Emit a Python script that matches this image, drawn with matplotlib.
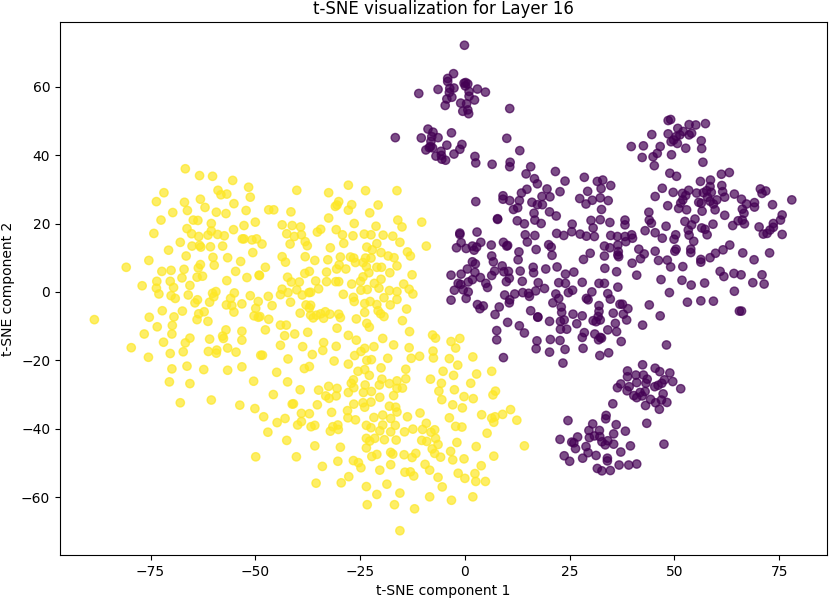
import matplotlib
matplotlib.use('Agg')
import matplotlib.pyplot as plt
import numpy as np

# points, grouped by region
yellow_left = [(-66.7,36.0),(-63.3,34.0),(-60.2,33.8),(-55.4,32.6),(-51.6,30.6),(-71.8,29.0),(-58.9,29.7),(-58.2,28.4),
    (-56.8,28.6),(-73.6,26.4),(-66.9,26.2),(-63.1,27.1),(-51.2,27.7),(-55.1,25.8),(-62.0,24.7),(-66.2,23.8),(-69.7,23.2),
    (-59.3,23.3),(-57.0,22.9),(-52.2,23.8),(-72.5,21.0),(-64.8,21.0),(-63.7,20.9),(-50.0,20.4),(-60.5,20.0),(-52.7,19.4),
    (-66.3,18.5),(-55.2,18.2),(-60.5,17.8),(-74.2,17.1),(-65.2,17.0),(-63.5,16.2),(-61.3,16.6),(-59.0,16.8),(-57.4,16.4),
    (-53.1,15.5),(-52.7,15.5),(-50.8,15.2),(-49.7,15.5),(-67.9,14.5),(-65.1,13.4),(-63.3,13.6),(-63.0,13.1),(-60.7,13.2),
    (-57.8,13.4),(-70.7,12.2),(-50.6,11.5),(-66.5,10.5),(-60.1,10.1),(-56.6,10.0),(-53.5,8.9),(-75.4,9.2),(-63.1,8.0),
    (-59.8,7.8),(-63.6,7.0),(-80.8,7.2),(-72.3,6.0),(-70.1,6.3),(-67.0,6.6),(-54.7,6.0),(-67.5,4.1),(-62.6,4.6),(-63.9,4.3),
    (-52.0,4.2),(-49.1,4.9),(-73.5,3.1),(-70.3,3.1),(-56.8,3.3),(-77.0,1.8),(-73.6,1.1),(-69.5,1.3),(-65.6,1.9),
    (-73.0,-0.6),(-70.1,-1.1),(-69.1,-1.9),(-66.0,-0.9),(-63.8,-2.3),(-64.4,-3.2),(-60.2,-0.4),(-59.4,0.1),(-59.9,-1.4),
    (-60.9,-3.0),(-55.0,-0.3),(-55.9,-1.9),(-51.2,-1.1),(-56.9,-3.8),(-55.6,-4.0),(-53.2,-3.5),(-49.3,-2.8),(-49.9,-4.8),
    (-55.1,-5.9),(-88.4,-8.1),(-72.2,-5.5),(-67.4,-5.6),(-75.3,-7.4),(-69.4,-7.3),(-63.5,-6.4),(-62.2,-5.8),(-63.9,-8.1),
    (-61.3,-8.6),(-50.3,-7.0),(-49.3,-7.4),(-73.4,-10.2),(-69.8,-9.8),(-76.5,-12.3),(-69.9,-12.3),(-57.0,-11.1),(-53.2,-11.5),
    (-57.8,-12.9),(-57.6,-13.6),(-65.6,-13.5),(-60.9,-13.8),(-53.2,-14.1),(-71.9,-14.7),(-66.7,-14.9),(-79.6,-16.3),
    (-56.6,-16.4),(-67.2,-17.5),(-59.2,-17.0),(-61.2,-17.4),(-59.3,-17.9),(-54.6,-17.6),(-70.3,-18.0),(-48.7,-18.5),
    (-75.5,-19.1),(-66.3,-21.7),(-53.2,-21.9),(-69.9,-22.5),(-62.3,-22.7),(-56.6,-22.9),(-70.5,-26.3),(-65.6,-26.8),
    (-50.4,-26.1),(-60.5,-31.6),(-67.9,-32.4),(-53.7,-33.1),(-50.1,-34.1)]

yellow_mid = [(-40.1,29.7),(-27.8,31.2),(-32.5,29.0),(-23.7,29.6),(-16.2,29.6),(-30.1,26.4),(-30.5,25.4),(-30.9,25.0),
    (-27.0,25.5),(-27.8,23.9),(-20.7,25.4),(-22.7,23.1),(-46.8,24.0),(-45.6,24.0),(-41.5,23.4),(-32.5,21.6),(-43.6,19.6),
    (-41.2,19.4),(-39.2,19.0),(-26.4,20.0),(-21.2,19.2),(-16.0,21.0),(-15.0,19.0),(-10.3,20.4),(-42.5,17.0),(-34.4,18.3),
    (-35.2,17.5),(-30.7,18.2),(-40.7,16.2),(-39.0,16.7),(-29.2,16.7),(-26.7,16.4),(-24.0,16.9),(-22.4,16.7),(-19.5,16.6),
    (-17.2,16.3),(-48.4,14.0),(-41.7,14.0),(-38.1,14.7),(-37.6,13.5),(-28.9,14.2),(-21.0,14.1),(-15.5,14.5),(-9.2,13.4),
    (-32.1,12.9),(-23.4,13.1),(-22.1,12.3),(-20.0,11.5),(-13.7,11.7),(-13.0,10.5),(-43.6,10.3),(-42.8,8.7),(-38.1,10.3),
    (-35.8,9.2),(-32.7,9.4),(-29.7,10.2),(-27.3,10.2),(-26.5,9.9),(-26.1,8.6),(-23.7,9.9),(-22.4,9.9),(-18.3,10.5),
    (-16.9,10.0),(-24.3,8.6),(-30.0,7.9),(-30.6,6.7),(-28.4,6.7),(-23.5,7.4),(-21.0,7.2),(-19.9,7.2),(-16.2,7.6),
    (-47.6,7.2),(-49.0,4.8),(-37.1,6.0),(-38.2,5.4),(-33.0,5.8),(-22.9,5.6),(-17.9,5.6),(-12.6,5.0),(-42.3,4.3),(-41.4,2.9),
    (-39.5,2.9),(-35.6,3.2),(-33.0,3.0),(-30.8,3.0),(-30.1,3.0),(-24.3,4.4),(-24.9,3.1),(-20.0,3.7),(-27.0,2.3),(-21.6,2.5),
    (-14.6,2.3),(-43.6,0.8),(-40.1,0.6),(-34.9,0.9),(-24.8,0.5),(-23.3,0.7),(-20.5,1.1),(-13.3,0.8),(-42.2,-0.2),(-44.0,-0.8),
    (-38.8,-0.9),(-37.2,-0.2),(-36.8,-0.1),(-29.0,-0.7),(-18.0,0.4),(-16.2,0.1),(-12.4,-0.6),(-46.9,-1.3),(-19.3,-1.7),
    (-16.2,-2.2),(-26.6,-1.6),(-26.4,-2.8),(-41.6,-3.0),(-46.0,-4.0),(-23.9,-3.4),(-22.6,-2.8),(-21.0,-3.7),(-17.8,-3.8),
    (-37.9,-3.8),(-36.8,-3.9),(-37.1,-4.7),(-13.9,-5.0),(-20.7,-5.5),(-23.9,-6.0),(-20.1,-6.4),(-39.3,-6.2),(-33.3,-5.8),
    (-34.4,-6.4),(-32.2,-6.5),(-35.4,-6.8),(-36.8,-6.8),(-36.2,-7.6),(-30.1,-6.5),(-29.7,-7.5),(-33.7,-7.7),(-48.9,-7.2),
    (-46.8,-8.0),(-25.9,-7.9),(-19.3,-7.2),(-14.9,-8.4)]

yellow_low = [(-47.6,-11.1),(-44.0,-9.7),(-42.6,-9.7),(-43.0,-12.8),(-40.6,-12.3),(-37.5,-11.8),(-30.5,-10.6),(-27.8,-12.7),
    (-25.9,-14.1),(-19.6,-13.6),(-17.0,-15.5),(-23.4,-9.2),(-22.8,-10.3),(-23.9,-16.5),(-24.8,-17.4),(-26.3,-18.6),(-21.7,-16.0),
    (-33.7,-14.8),(-30.7,-15.9),(-44.0,-15.6),(-38.7,-16.0),(-33.9,-17.1),(-36.4,-18.3),(-48.3,-18.5),(-42.2,-19.6),(-31.2,-20.2),
    (-27.8,-21.1),(-23.4,-20.0),(-22.3,-19.8),(-18.4,-19.4),(-38.3,-22.4),(-37.1,-21.8),(-44.9,-23.5),(-25.5,-23.2),(-23.9,-22.7),
    (-22.8,-24.4),(-20.0,-22.2),(-42.3,-26.3),(-26.6,-25.7),(-27.1,-26.7),(-19.8,-25.5),(-20.4,-27.2),(-18.0,-26.8),(-16.2,-26.0),
    (-23.8,-27.2),(-26.5,-28.0),(-39.3,-28.6),(-34.9,-28.7),(-32.5,-27.6),(-30.5,-28.2),(-16.2,-28.2),(-27.8,-29.4),(-24.2,-29.4),
    (-22.3,-29.1),(-45.7,-30.0),(-33.2,-30.4),(-32.4,-31.1),(-30.7,-30.4),(-20.3,-30.8),(-17.0,-30.3),(-41.2,-32.8),(-40.9,-32.7),
    (-35.2,-33.0),(-26.5,-32.8),(-24.3,-32.4),(-22.4,-32.2),(-23.9,-33.7),(-18.0,-33.4),(-16.5,-33.7),(-28.0,-34.7),(-39.0,-35.5),
    (-37.1,-35.6),(-31.8,-35.2),(-19.6,-36.0),(-16.2,-35.1),(-48.0,-36.5),(-42.9,-37.0),(-27.9,-36.8),(-26.1,-37.4),(-21.7,-36.7),
    (-17.7,-37.0),(-44.8,-38.2),(-39.0,-37.9),(-39.9,-38.9),(-23.5,-39.0),(-19.6,-38.9),(-16.6,-39.0),(-36.7,-39.4),(-35.8,-39.0),
    (-31.5,-39.4),(-30.3,-38.9),(-49.9,-48.2),(-47.0,-41.0),(-42.5,-43.4),(-40.2,-48.2),(-35.8,-45.0),
    (-29.7,-45.4),(-23.5,-45.6),(-30.3,-49.5),(-26.6,-49.3),(-25.4,-49.9),(-24.8,-51.4),(-22.2,-48.1),(-21.0,-47.5),(-17.7,-46.9),
    (-17.2,-47.4),(-17.7,-50.5),(-20.3,-52.1),(-34.0,-51.0),(-27.7,-54.0),(-29.5,-55.8),(-23.5,-56.9),(-18.6,-56.2),(-21.0,-59.2),
    (-23.3,-62.2),(-23.5,-42.8),(-22.7,-43.6),(-21.5,-42.8),(-19.2,-43.2),(-16.4,-43.3),(-32.1,-40.7),(-30.2,-40.2),(-22.4,-39.7),
    (-20.3,-40.6),(-17.7,-40.9),(-35.5,-55.9)]

yellow_right = [(-13.2,-11.6),(-7.7,-12.6),(-7.0,-13.5),(-3.3,-14.5),(-1.2,-13.6),(-2.2,-16.4),(-13.3,-16.3),(1.9,-19.0),
    (-7.6,-17.3),(-7.5,-19.3),(-12.8,-19.4),(-10.8,-18.8),(-3.7,-19.5),(-1.7,-21.4),(-14.1,-22.6),(-5.2,-23.2),(-2.7,-24.4),
    (2.8,-24.0),(6.4,-23.2),(-8.2,-25.5),(-14.1,-25.4),(-14.9,-28.1),(-5.6,-26.7),(1.4,-26.7),(-6.2,-29.0),(-2.5,-28.6),
    (7.3,-29.0),(6.7,-30.1),(-0.2,-30.6),(2.0,-31.2),(-5.5,-31.5),(-2.9,-33.0),(-0.6,-33.9),(-10.7,-35.4),(-13.7,-36.5),
    (-3.7,-36.8),(4.0,-35.9),(10.9,-34.4),(9.0,-35.8),(7.2,-36.5),(6.4,-36.9),(6.9,-38.1),(12.4,-37.5),(-2.2,-39.3),(-0.7,-39.5),
    (5.3,-41.3),(-9.2,-38.4),(-10.1,-40.2),(-12.4,-40.1),(-14.4,-40.9),(-7.2,-40.3),(-8.1,-41.0),(-7.0,-42.8),(-10.3,-43.4),
    (-9.1,-43.7),(-6.4,-44.6),(-1.9,-44.0),(2.7,-45.2),(14.2,-45.0),(-7.8,-45.9),(-7.2,-47.2),(-3.4,-46.6),(-5.8,-48.3),
    (-2.9,-49.1),(-0.2,-48.8),(6.9,-48.0),(-11.7,-47.2),(-12.6,-48.4),(-14.5,-47.6),(-9.5,-50.4),(-8.4,-52.1),(3.9,-50.8),
    (-6.4,-54.2),(-1.6,-53.0),(0.0,-54.5),(2.4,-53.1),(2.6,-55.4),(4.9,-55.4),(-5.4,-57.0),(-8.4,-59.9),(-3.2,-60.9),(1.9,-59.9),
    (-12.0,-63.4),(-13.0,-52.6),(-14.3,-52.7),(-12.2,-53.8),(-15.5,-58.8),(-16.8,-62.2),(-15.5,-69.8)]

purple_top = [(-0.1,72.1),(-2.7,63.8),(-4.1,62.4),(-4.1,61.5),(-0.2,61.0),(0.2,61.2),(0.7,60.8),(0.1,60.2),(-6.4,59.2),
    (-2.6,59.6),(-3.6,59.5),(-3.7,58.3),(-11.0,58.0),(3.0,59.3),(4.9,58.4),(1.0,58.6),(1.0,57.2),(-3.1,56.9),(-4.3,56.4),
    (2.3,56.1),(-4.7,54.5),(-1.0,55.2),(0.4,55.0),(-0.5,52.8),(0.7,53.2),(0.9,52.1),(10.7,53.6),(-8.8,47.6),(-7.6,46.7),
    (-3.2,46.5),(-16.6,45.1),(-10.4,45.0),(-7.9,45.4),(-6.4,45.1),(-8.1,44.0),(10.0,44.9),(-4.3,42.9),(-0.7,43.1),(-8.2,42.5),
    (-8.5,42.2),(-9.3,41.5),(-7.7,42.1),(-1.2,41.7),(13.1,41.3),(-5.7,41.1),(-2.6,40.3),(-6.9,39.7),(-5.6,39.9),(-5.5,38.8),
    (-4.6,38.5),(2.4,39.6),(2.6,37.7),(6.5,37.3),(10.8,37.9),(10.7,36.6),(14.6,34.5),(15.7,36.6)]

purple_mid = [(16.6,33.1),(17.3,31.6),(21.6,35.2),(23.9,32.4),(28.5,33.5),(31.6,32.3),(32.9,32.7),(34.8,31.1),(14.8,30.0),
    (13.5,28.9),(19.6,30.1),(22.7,29.3),(29.3,29.4),(32.5,30.2),(2.6,26.4),(9.1,28.1),(9.1,27.1),(10.7,26.7),(13.0,26.7),
    (18.4,27.9),(20.3,27.8),(27.4,27.3),(30.4,26.8),(32.3,27.5),(34.2,26.7),(16.0,26.2),(17.3,25.5),(18.5,25.5),(28.9,25.7),
    (12.6,24.6),(11.6,24.1),(32.6,24.1),(16.5,23.0),(20.2,23.4),(21.8,22.2),(7.8,21.4),(7.8,21.2),(16.7,21.0),(12.5,20.8),
    (14.2,19.9),(18.2,20.0),(30.1,20.9),(32.3,21.1),(34.6,20.3),(25.6,19.8),(30.6,18.7),(-1.2,17.2),(-1.2,16.8),(2.9,17.5),
    (14.4,16.7),(16.7,16.5),(21.9,17.1),(23.6,16.5),(25.5,17.6),(27.5,16.9),(29.0,16.3),(30.9,16.2),(34.8,16.5),(36.4,16.2),
    (-0.9,14.4),(3.8,14.5),(14.9,14.6),(-2.0,12.9),(0.3,12.7),(1.8,13.4),(2.8,13.1),(2.2,12.2),(6.3,13.7),(9.2,14.5),(10.2,13.6),
    (10.0,13.4),(20.0,13.8),(20.6,13.1),(17.0,12.4),(12.9,11.7),(33.3,13.4),(34.6,12.9),(36.5,13.7),(29.9,11.3),(6.4,10.5),
    (20.8,10.7),(28.3,9.5),(33.3,10.5),(12.7,9.4),(36.5,10.8),(6.8,8.8),(1.8,8.8),(2.5,8.2),(0.6,6.7),(8.9,7.6),(22.0,7.3),
    (16.3,7.2),(19.3,6.7),(33.4,6.9),(7.1,6.1),(9.3,5.9),(10.4,6.0),(13.2,6.1),(16.4,5.6),(26.0,5.8),(24.0,5.2),(2.4,5.7),
    (36.2,5.9),(-3.3,4.9),(-0.9,5.2),(6.4,4.8),(3.7,4.2),(1.8,3.6),(10.6,4.0),(5.0,2.5),(9.9,3.0),(13.7,3.1),(0.8,2.9),(-1.6,2.5),
    (-1.0,2.2),(17.5,2.7),(22.4,2.7),(24.0,2.5),(28.0,2.8),(32.0,2.5),(33.3,2.5),(5.4,1.3),(19.0,1.0),(16.9,0.3),(36.5,1.4),
    (-2.5,0.5),(-0.4,0.6),(0.8,0.0),(25.7,0.5),(24.7,-0.2),(11.9,-0.6),(13.8,-0.2),(15.2,-0.4),(15.4,-1.3),(9.5,-0.9),(21.7,-0.6),
    (30.3,0.0),(34.1,-0.5),(0.3,-1.9),(-3.3,-2.4),(10.7,-2.3),(10.6,-3.2),(22.4,-1.9),(29.0,-1.9),(29.4,-2.3),(34.7,-2.1),
    (21.0,-3.2),(3.0,-3.7),(4.4,-4.1),(3.6,-4.9),(8.2,-4.4),(23.0,-4.4),(32.0,-4.0),(37.0,-3.6),(7.2,-6.6),(15.7,-5.5),(23.1,-6.0),
    (25.8,-6.5),(28.0,-7.0),(32.0,-5.7),(31.8,-7.2),(35.4,-6.2),(17.4,-7.4),(17.4,-7.3),(20.2,-8.6),(10.2,-8.9),(22.8,-8.6),
    (23.7,-8.2),(30.6,-8.4),(32.3,-8.2),(31.3,-8.7),(35.9,-9.2),(13.0,-9.9),(26.7,-9.3),(22.8,-10.9),(24.3,-10.9),(7.6,-11.3),
    (14.2,-12.0),(28.5,-11.9),(31.0,-12.3),(34.1,-11.1),(36.2,-11.6),(28.0,-13.3),(32.3,-13.3),(32.6,-13.5),(31.9,-14.0),
    (7.6,-14.0),(20.4,-13.9),(17.2,-14.3),(22.7,-14.2),(37.3,-14.5),(17.0,-16.6),(20.2,-17.6),(23.9,-16.8),(28.2,-16.5),
    (34.3,-17.8),(32.2,-18.6),(9.2,-19.2),(23.4,-20.8)]

purple_right = [(49.1,50.4),(48.5,50.1),(57.4,49.2),(55.1,48.8),(53.5,48.9),(50.8,47.8),(52.1,46.9),(54.1,46.4),(53.5,45.9),
    (48.5,46.2),(44.6,46.0),(51.3,45.9),(50.4,45.4),(49.8,44.4),(49.2,43.9),(50.7,43.4),(56.4,44.2),(39.7,42.5),(42.6,42.7),
    (46.6,42.5),(52.7,42.0),(56.5,41.9),(45.9,40.5),(44.9,39.5),(42.3,39.3),(49.3,40.1),(45.2,36.9),(56.8,37.9),(48.9,34.7),
    (50.5,33.8),(61.2,34.4),(63.1,34.9),(56.2,32.3),(58.6,32.7),(61.3,31.1),(47.1,30.3),(49.7,29.1),(51.9,28.8),(53.4,29.7),
    (55.3,28.9),(56.9,29.0),(57.7,29.6),(58.8,29.1),(58.5,30.8),(61.5,29.3),(64.3,28.6),(70.5,30.1),(70.9,28.8),(71.8,29.5),
    (45.4,27.9),(52.7,28.2),(57.9,27.7),(62.0,27.7),(66.0,27.1),(69.1,26.1),(78.0,26.9),(52.0,26.9),(51.5,26.0),(55.8,26.2),
    (56.4,25.9),(58.5,26.5),(60.1,26.9),(59.3,25.7),(67.2,25.7),(69.1,24.8),(73.4,25.5),(48.4,25.2),(51.0,24.4),(52.9,24.0),
    (56.6,23.6),(59.7,24.0),(66.2,24.2),(66.6,23.0),(43.9,23.3),(62.0,22.4),(75.7,22.5),(44.0,21.0),(44.5,20.1),(52.5,20.6),
    (54.9,21.3),(66.2,21.0),(65.2,20.8),(75.3,21.0),(48.0,19.2),(54.1,19.6),(59.2,19.8),(63.9,19.4),(66.7,19.9),(73.6,20.0),
    (70.2,19.0),(43.0,17.9),(45.4,17.3),(56.5,18.7),(57.3,18.3),(53.3,18.1),(73.6,18.9),(72.8,18.1),(38.2,21.0),(38.2,19.6),
    (53.5,16.6),(57.8,16.7),(50.3,16.7),(72.1,17.1),(71.2,16.9),(75.7,16.8),(49.9,15.4),(47.1,15.7),(38.2,16.2),(39.8,16.7),
    (40.0,15.7),(38.4,14.7),(54.6,14.8),(63.2,13.7),(61.6,12.3),(59.8,11.3),(58.5,10.0),(66.3,11.4),(72.7,11.4),(69.0,9.4),
    (41.5,12.5),(42.8,11.1),(41.9,9.7),(45.4,11.9),(46.2,9.2),(48.3,9.3),(50.4,12.5),(50.1,11.9),(53.9,12.5),(53.9,11.5),
    (56.3,9.5),(56.3,8.7),(49.1,7.3),(52.0,7.4),(39.9,8.4),(36.6,11.8),(36.7,10.3),(41.0,4.9),(46.8,3.6),(51.8,3.4),(54.0,2.0),
    (57.2,2.6),(60.9,6.0),(61.8,4.5),(64.2,5.4),(65.9,5.0),(70.9,5.0),(68.7,2.7),(71.4,2.3),(64.3,0.2),(48.8,-0.2),(44.0,-3.8),
    (53.1,-3.0),(56.3,-2.6),(59.3,-2.7),(65.5,-5.6),(66.0,-5.6),(37.6,-3.6),(38.9,-4.9),(37.8,-6.5),(46.6,-7.0),(38.6,-8.2),
    (42.4,-9.7),(48.1,-15.5)]

purple_low = [(42.4,-21.3),(45.4,-22.3),(46.5,-23.3),(48.9,-23.7),(38.8,-23.1),(38.8,-24.8),(40.8,-24.3),(42.6,-24.3),
    (43.5,-25.5),(49.6,-26.2),(47.6,-25.7),(47.0,-26.7),(41.0,-26.5),(43.2,-26.7),(37.2,-26.9),(39.2,-27.7),(36.4,-28.0),
    (45.3,-27.7),(46.1,-27.3),(51.5,-28.3),(38.7,-28.9),(43.0,-29.1),(41.8,-29.4),(47.3,-29.8),(40.3,-30.3),(41.0,-30.9),
    (42.3,-30.4),(44.3,-31.4),(45.5,-32.4),(48.2,-32.3),(46.9,-31.6),(35.3,-32.7),(43.1,-33.2),(46.4,-34.3),(33.7,-36.1),
    (33.6,-37.1),(24.6,-37.6),(43.4,-38.4),(30.5,-38.6),(36.1,-38.8),(29.6,-40.5),(32.1,-40.5),(38.3,-40.7),(35.5,-41.5),
    (26.9,-42.4),(29.7,-42.6),(30.9,-42.1),(32.2,-42.3),(22.7,-43.1),(25.5,-43.9),(26.0,-44.1),(32.7,-43.8),(34.1,-43.5),
    (33.5,-44.7),(35.5,-44.5),(47.5,-44.5),(28.9,-45.2),(26.4,-45.8),(39.5,-45.0),(29.4,-47.0),(37.2,-46.8),(23.7,-47.9),
    (31.3,-47.8),(28.1,-48.6),(25.0,-49.5),(34.0,-48.6),(34.0,-49.4),(36.8,-50.6),(39.1,-50.6),(41.0,-50.3),(31.6,-51.6),
    (32.7,-52.3),(34.7,-52.2)]

yellow = np.array(yellow_left + yellow_mid + yellow_low + yellow_right)
purple = np.array(purple_top + purple_mid + purple_right + purple_low)
points = np.vstack([purple, yellow])
labels = np.array([0] * len(purple) + [1] * len(yellow))

fig = plt.figure(figsize=(8.30, 5.99), dpi=100)
ax = fig.add_axes([60 / 830, 1 - 555 / 599, 767 / 830, 533 / 599])
ax.scatter(points[:, 0], points[:, 1], c=labels, cmap='viridis', alpha=0.7)
ax.set_xlim(-96.6, 86.4)
ax.set_ylim(-76.9, 78.9)
ax.set_xticks([-75, -50, -25, 0, 25, 50, 75])
ax.set_yticks([-60, -40, -20, 0, 20, 40, 60])
ax.set_title('t-SNE visualization for Layer 16')
ax.set_xlabel('t-SNE component 1')
ax.set_ylabel('t-SNE component 2')
fig.savefig('out.png', dpi=100)
